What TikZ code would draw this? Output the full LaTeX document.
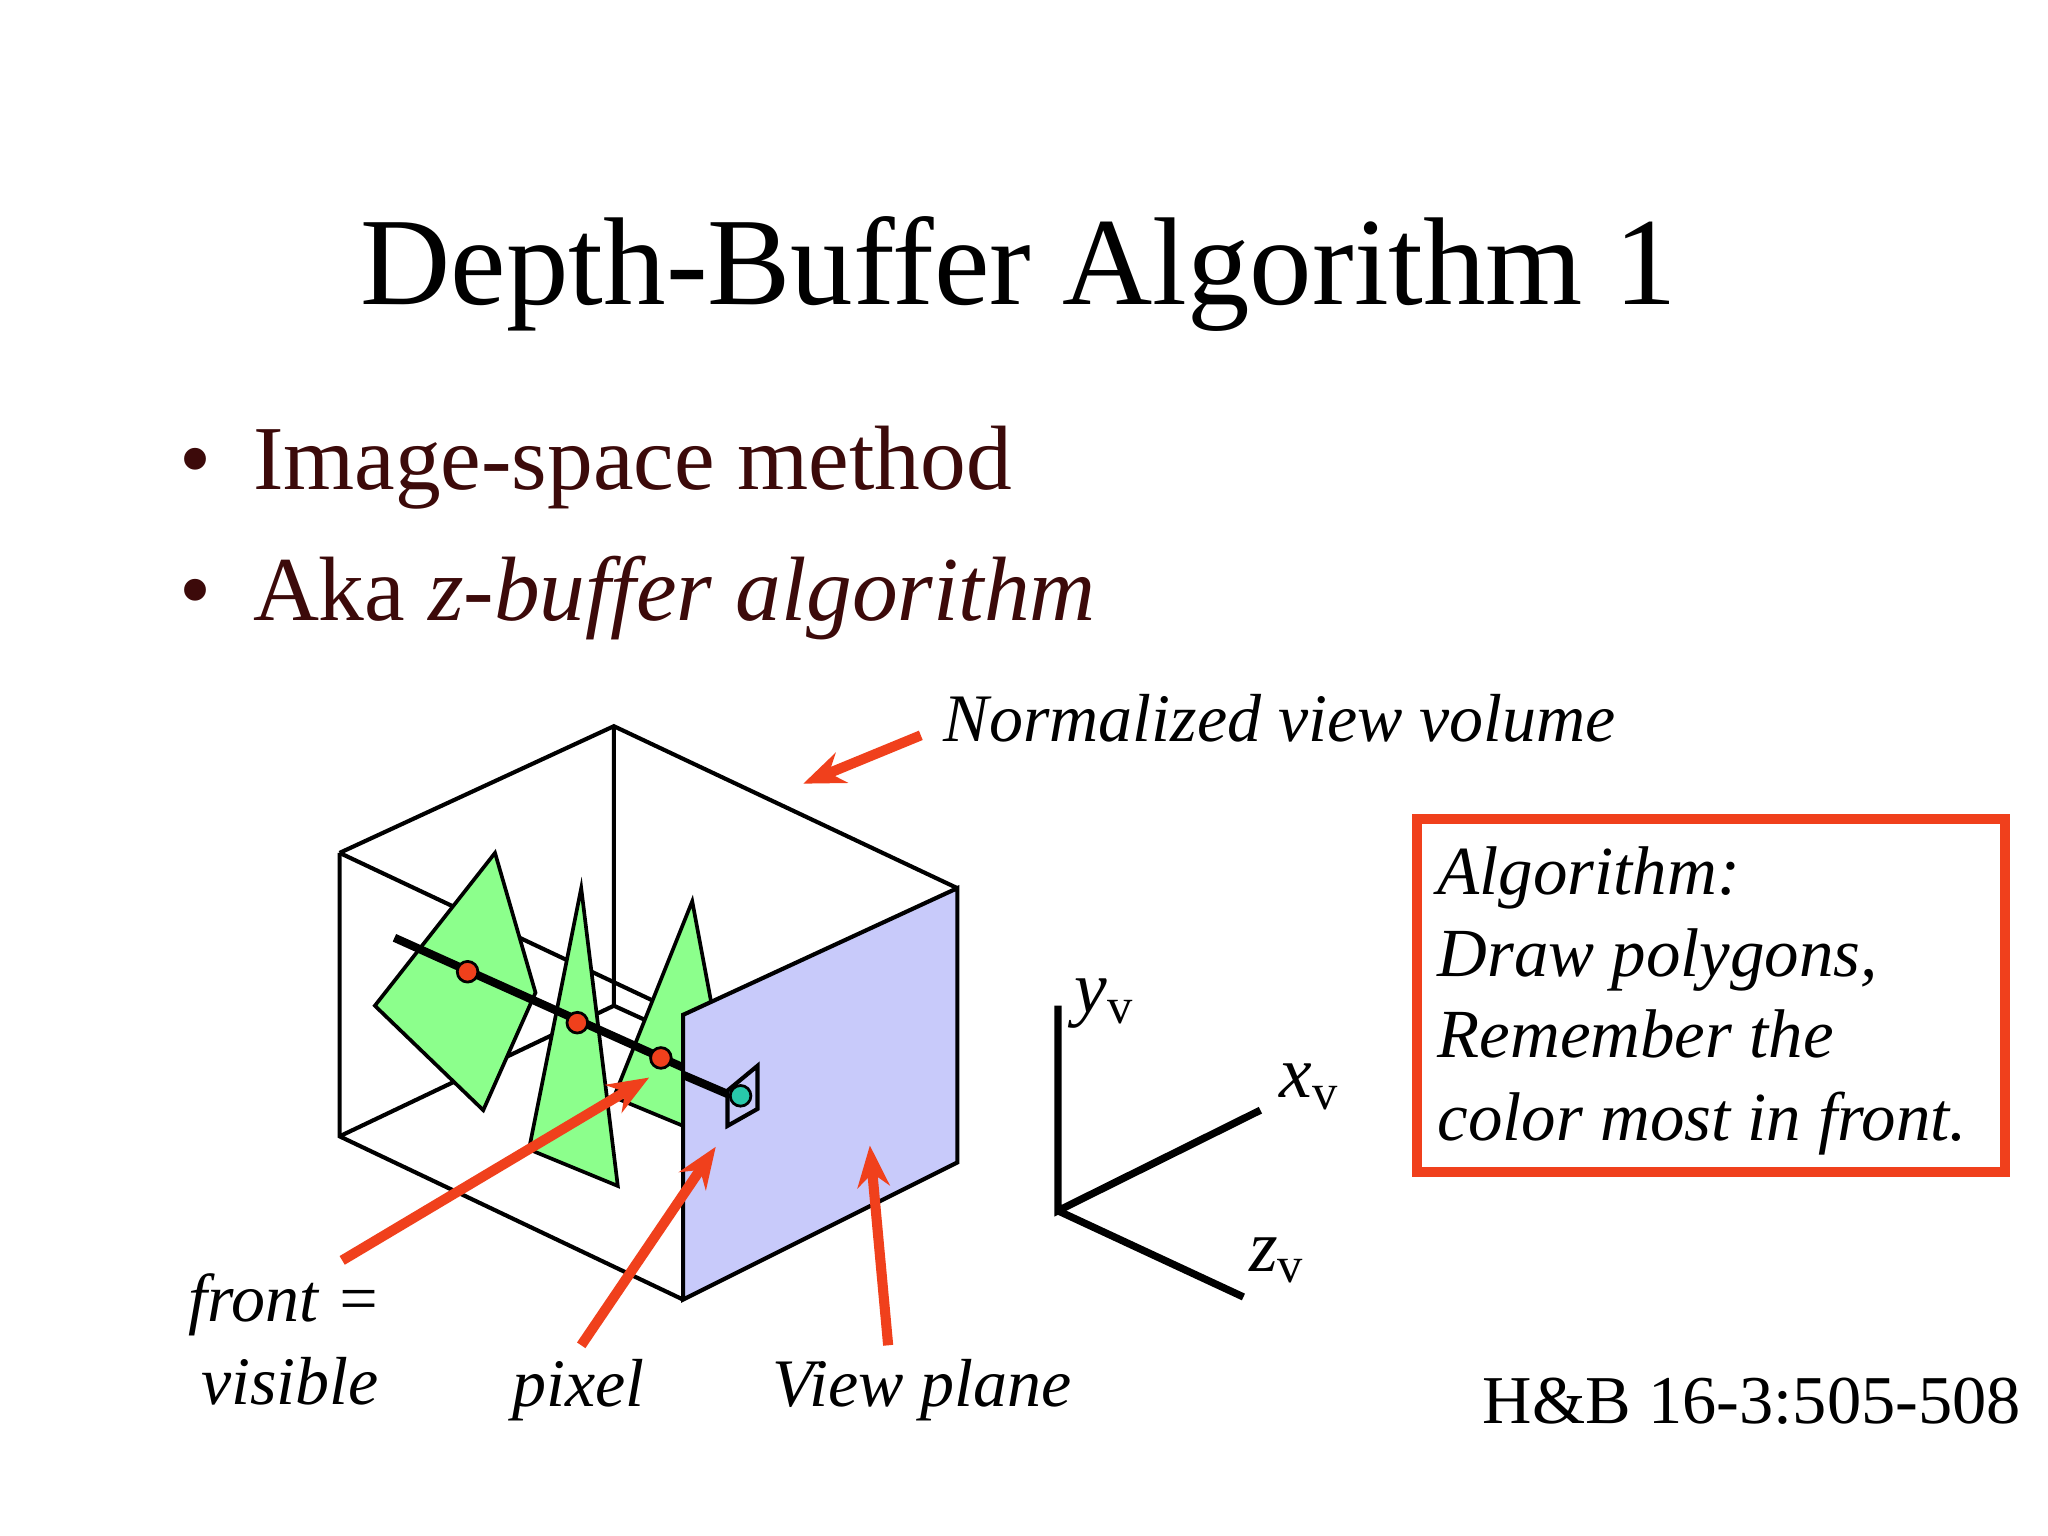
\documentclass[tikz,border=0pt]{standalone}
\usepackage{fontspec}
\usetikzlibrary{arrows.meta}
\setmainfont{Liberation Serif}
\definecolor{arrred}{RGB}{240,64,28}
\definecolor{vplane}{RGB}{200,202,250}
\definecolor{maroonc}{RGB}{60,10,10}
\begin{document}
\begin{tikzpicture}[x=0.01cm,y=-0.01cm,
  edge/.style={line width=0.9pt,black},
  poly/.style={fill=green!45!white,draw=black,line width=0.8pt},
  redarr/.style={-{Stealth[length=9pt,width=7pt]},line width=2.2pt,draw=arrred},
  lbl/.style={font=\fontsize{14.8}{17}\selectfont\itshape,inner sep=0pt},
  dot/.style={circle,draw=black,inner sep=0pt,minimum size=4.5pt,line width=0.6pt}]
\useasboundingbox (0,0) rectangle (1568,1176);
\fill[white] (0,0) rectangle (1568,1176);
% title and bullets
\node[font=\fontsize{27.2}{30}\selectfont] (title) at (780,210) {Depth-Buffer Algorithm 1};
\node[text=maroonc,anchor=base west,font=\fontsize{19.9}{24}\selectfont,inner sep=0pt] (d1) at (137,375) {•};
\node[text=maroonc,anchor=base west,font=\fontsize{19.9}{24}\selectfont,inner sep=0pt] (b1) at (193,375) {Image-space method};
\node[text=maroonc,anchor=base west,font=\fontsize{19.9}{24}\selectfont,inner sep=0pt] (d2) at (137,475) {•};
\node[text=maroonc,anchor=base west,font=\fontsize{19.9}{24}\selectfont,inner sep=0pt] (b2) at (193,475) {Aka \textit{z-buffer algorithm}};
% cube coordinates
\coordinate (tb) at (470,556);
\coordinate (tl) at (260,653);
\coordinate (tr) at (733,680);
\coordinate (tf) at (523,777);
\coordinate (bb) at (470,770);
\coordinate (bl) at (260,870);
\coordinate (br) at (733,890);
\coordinate (bf) at (523,995);
\draw[edge] (tl)--(tb)--(tr);
\draw[edge] (tb)--(bb)--(bl);
\draw[edge] (bb)--(br);
\draw[edge] (tl)--(bl)--(bf);
\draw[edge] (tl)--(tf);
% polygons
\draw[poly] (379,653)--(410,760)--(370,850)--(287,770)--cycle;
\draw[poly] (445,680)--(473,908)--(405,880)--cycle;
\draw[poly] (530,690)--(545,770)--(523,777)--(523,862)--(470,840)--cycle;
% ray
\coordinate (r0) at (302,718);
\coordinate (r1) at (558,833);
\draw[line width=1.8pt] (r0)--(r1);
\node[dot,fill=arrred] (pa) at (358,744) {};
\node[dot,fill=arrred] (pb) at (442,783) {};
\node[dot,fill=arrred] (pc) at (506,810) {};
% view plane
\draw[edge,fill=vplane] (tf)--(tr)--(br)--(bf)--cycle;
\draw[line width=1.8pt] (523,823)--(558,838);
\draw[edge,fill=vplane] (557,835)--(580,816)--(580,849)--(557,862)--cycle;
\node[dot,fill={rgb,255:red,40;green,200;blue,170}] (pix) at (567,839) {};
% axes
\coordinate (o) at (810,927);
\coordinate (ay) at (810,770);
\coordinate (ax) at (965,850);
\coordinate (az) at (952,993);
\draw[line width=1.6pt] (ay)--(o)--(ax);
\draw[line width=1.6pt] (o)--(az);
\node[font=\fontsize{16}{19}\selectfont] (ly) at (845,768) {\textit{y}\raisebox{-0.35ex}{\fontsize{11}{14}\selectfont v}};
\node[font=\fontsize{16}{19}\selectfont] (lx) at (1002,832) {\textit{x}\raisebox{-0.35ex}{\fontsize{11}{14}\selectfont v}};
\node[font=\fontsize{16}{19}\selectfont] (lz) at (977,965) {\textit{z}\raisebox{-0.35ex}{\fontsize{11}{14}\selectfont v}};
% algorithm box
\draw[line width=2.2pt,draw=arrred] (1085,627) rectangle (1535,897);
\node[lbl,font=\fontsize{15}{17}\selectfont\itshape,anchor=base west] (al1) at (1100,685) {Algorithm:};
\node[lbl,font=\fontsize{15}{17}\selectfont\itshape,anchor=base west] (al2) at (1100,748) {Draw polygons,};
\node[lbl,font=\fontsize{15}{17}\selectfont\itshape,anchor=base west] (al3) at (1100,810) {Remember the};
\node[lbl,font=\fontsize{15}{17}\selectfont\itshape,anchor=base west] (al4) at (1100,873) {color most in front.};
% labels
\node[lbl,anchor=base west] (nvv) at (722,568) {Normalized view volume};
\node[lbl,anchor=base] (front) at (218,1012) {front =};
\node[lbl,anchor=base] (vis) at (222,1075) {visible};
\node[lbl,anchor=base] (pixel) at (443,1077) {pixel};
\node[lbl,anchor=base] (vp) at (706,1077) {View plane};
\node[font=\fontsize{14.9}{18}\selectfont,anchor=base east,inner sep=0pt] (hb) at (1548,1090) {H\&B 16-3:505-508};
% arrows
\coordinate (a1s) at (705,563); \coordinate (a1e) at (615,600);
\coordinate (a2s) at (262,965); \coordinate (a2e) at (497,825);
\coordinate (a3s) at (445,1030); \coordinate (a3e) at (548,878);
\coordinate (a4s) at (680,1030); \coordinate (a4e) at (666,877);
\draw[redarr] (a1s)--(a1e);
\draw[redarr] (a2s)--(a2e);
\draw[redarr] (a3s)--(a3e);
\draw[redarr] (a4s)--(a4e);
\end{tikzpicture}
\end{document}
